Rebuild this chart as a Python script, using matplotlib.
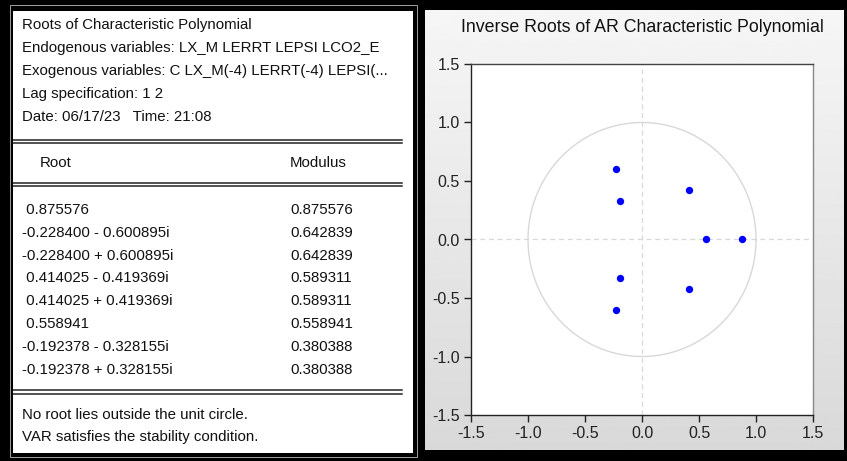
import matplotlib
matplotlib.use("Agg")
import matplotlib.pyplot as plt
import numpy as np
from matplotlib.patches import Rectangle

plt.rcParams["font.family"] = ["Liberation Sans", "DejaVu Sans"]

header_lines = [
    "Roots of Characteristic Polynomial",
    "Endogenous variables: LX_M LERRT LEPSI LCO2_E",
    "Exogenous variables: C LX_M(-4) LERRT(-4) LEPSI(...",
    "Lag specification: 1 2",
    "Date: 06/17/23   Time: 21:08",
]
root_labels = [
    " 0.875576",
    "-0.228400 - 0.600895i",
    "-0.228400 + 0.600895i",
    " 0.414025 - 0.419369i",
    " 0.414025 + 0.419369i",
    " 0.558941",
    "-0.192378 - 0.328155i",
    "-0.192378 + 0.328155i",
]
modulus_labels = ["0.875576", "0.642839", "0.642839", "0.589311",
                  "0.589311", "0.558941", "0.380388", "0.380388"]
footer_lines = [
    "No root lies outside the unit circle.",
    "VAR satisfies the stability condition.",
]

root_re = [0.875576, -0.228400, -0.228400, 0.414025, 0.414025, 0.558941, -0.192378, -0.192378]
root_im = [0.0, -0.600895, 0.600895, -0.419369, 0.419369, 0.0, -0.328155, 0.328155]
ticks = [-1.5, -1.0, -0.5, 0.0, 0.5, 1.0, 1.5]

W, H = 847, 461
fig = plt.figure(figsize=(W / 100, H / 100), dpi=100, facecolor="black")


def frac(x0, y0, x1, y1):
    # pixel box (top-left origin) -> figure fraction rect
    return [x0 / W, 1 - y1 / H, (x1 - x0) / W, (y1 - y0) / H]


# thin light outline round the table panel
fig.patches.append(Rectangle((10 / W, 1 - 457 / H), 407 / W, 452 / H,
                             transform=fig.transFigure, fill=False,
                             edgecolor="#bbbbbb", linewidth=0.6))

# ---- left: table panel ----
tab = fig.add_axes(frac(13, 11, 413, 453))
tab.set_xlim(13, 413)
tab.set_ylim(453, 11)
tab.axis("off")
tab.add_patch(Rectangle((13, 11), 400, 442, color="white", zorder=0))

fs = 10.8
for i, line in enumerate(header_lines):
    tab.text(22, 25 + i * 23, line, fontsize=fs, va="center", ha="left", color="#111111")

for y in (140, 143.5, 183, 186.5, 390, 393.5):
    tab.plot([13, 402], [y, y], color="#222222", lw=1.1)

tab.text(40, 163, "Root", fontsize=fs, va="center", color="#111111")
tab.text(290, 163, "Modulus", fontsize=fs, va="center", color="#111111")

for i, (r, m) in enumerate(zip(root_labels, modulus_labels)):
    y = 210 + i * 22.8
    tab.text(22, y, r, fontsize=fs, va="center", color="#111111")
    tab.text(290, y, m, fontsize=fs, va="center", color="#111111")

for i, line in enumerate(footer_lines):
    tab.text(22, 415 + i * 22, line, fontsize=fs, va="center", color="#111111")

# ---- right: inverse roots plot ----
bg = fig.add_axes(frac(425, 10, 843, 450))
grad = np.linspace(0.965, 0.85, 256).reshape(-1, 1)
bg.imshow(grad, cmap="gray", vmin=0, vmax=1, aspect="auto", extent=[0, 1, 0, 1])
bg.axis("off")
fig.text(642 / W, 1 - 28 / H, "Inverse Roots of AR Characteristic Polynomial",
         ha="center", va="center", fontsize=12.8, color="#111111")

ax = fig.add_axes(frac(471, 64, 813, 415))
ax.set_facecolor("white")
ax.set_xlim(-1.5, 1.5)
ax.set_ylim(-1.5, 1.5)
theta = np.linspace(0, 2 * np.pi, 400)
ax.plot(np.cos(theta), np.sin(theta), color="#d8d8d8", lw=1.0, zorder=1)
ax.axhline(0, color="#d8d8d8", lw=0.9, ls=(0, (4, 3)), zorder=1)
ax.axvline(0, color="#d8d8d8", lw=0.9, ls=(0, (4, 3)), zorder=1)
ax.scatter(root_re, root_im, s=28, color="#0000ff", zorder=3, linewidths=0)

ax.set_xticks(ticks)
ax.set_yticks(ticks)
ax.set_xticklabels([f"{t:.1f}" for t in ticks])
ax.set_yticklabels([f"{t:.1f}" for t in ticks])
ax.tick_params(direction="out", length=5, width=1, labelsize=11.5,
               colors="#222222", pad=3)
ax.spines["left"].set_color("#222222")
ax.spines["bottom"].set_color("#222222")
ax.spines["top"].set_color("#444444")
ax.spines["right"].set_color("#888888")
for s in ax.spines.values():
    s.set_linewidth(1.0)

fig.savefig("out.png", dpi=100, facecolor="black")
